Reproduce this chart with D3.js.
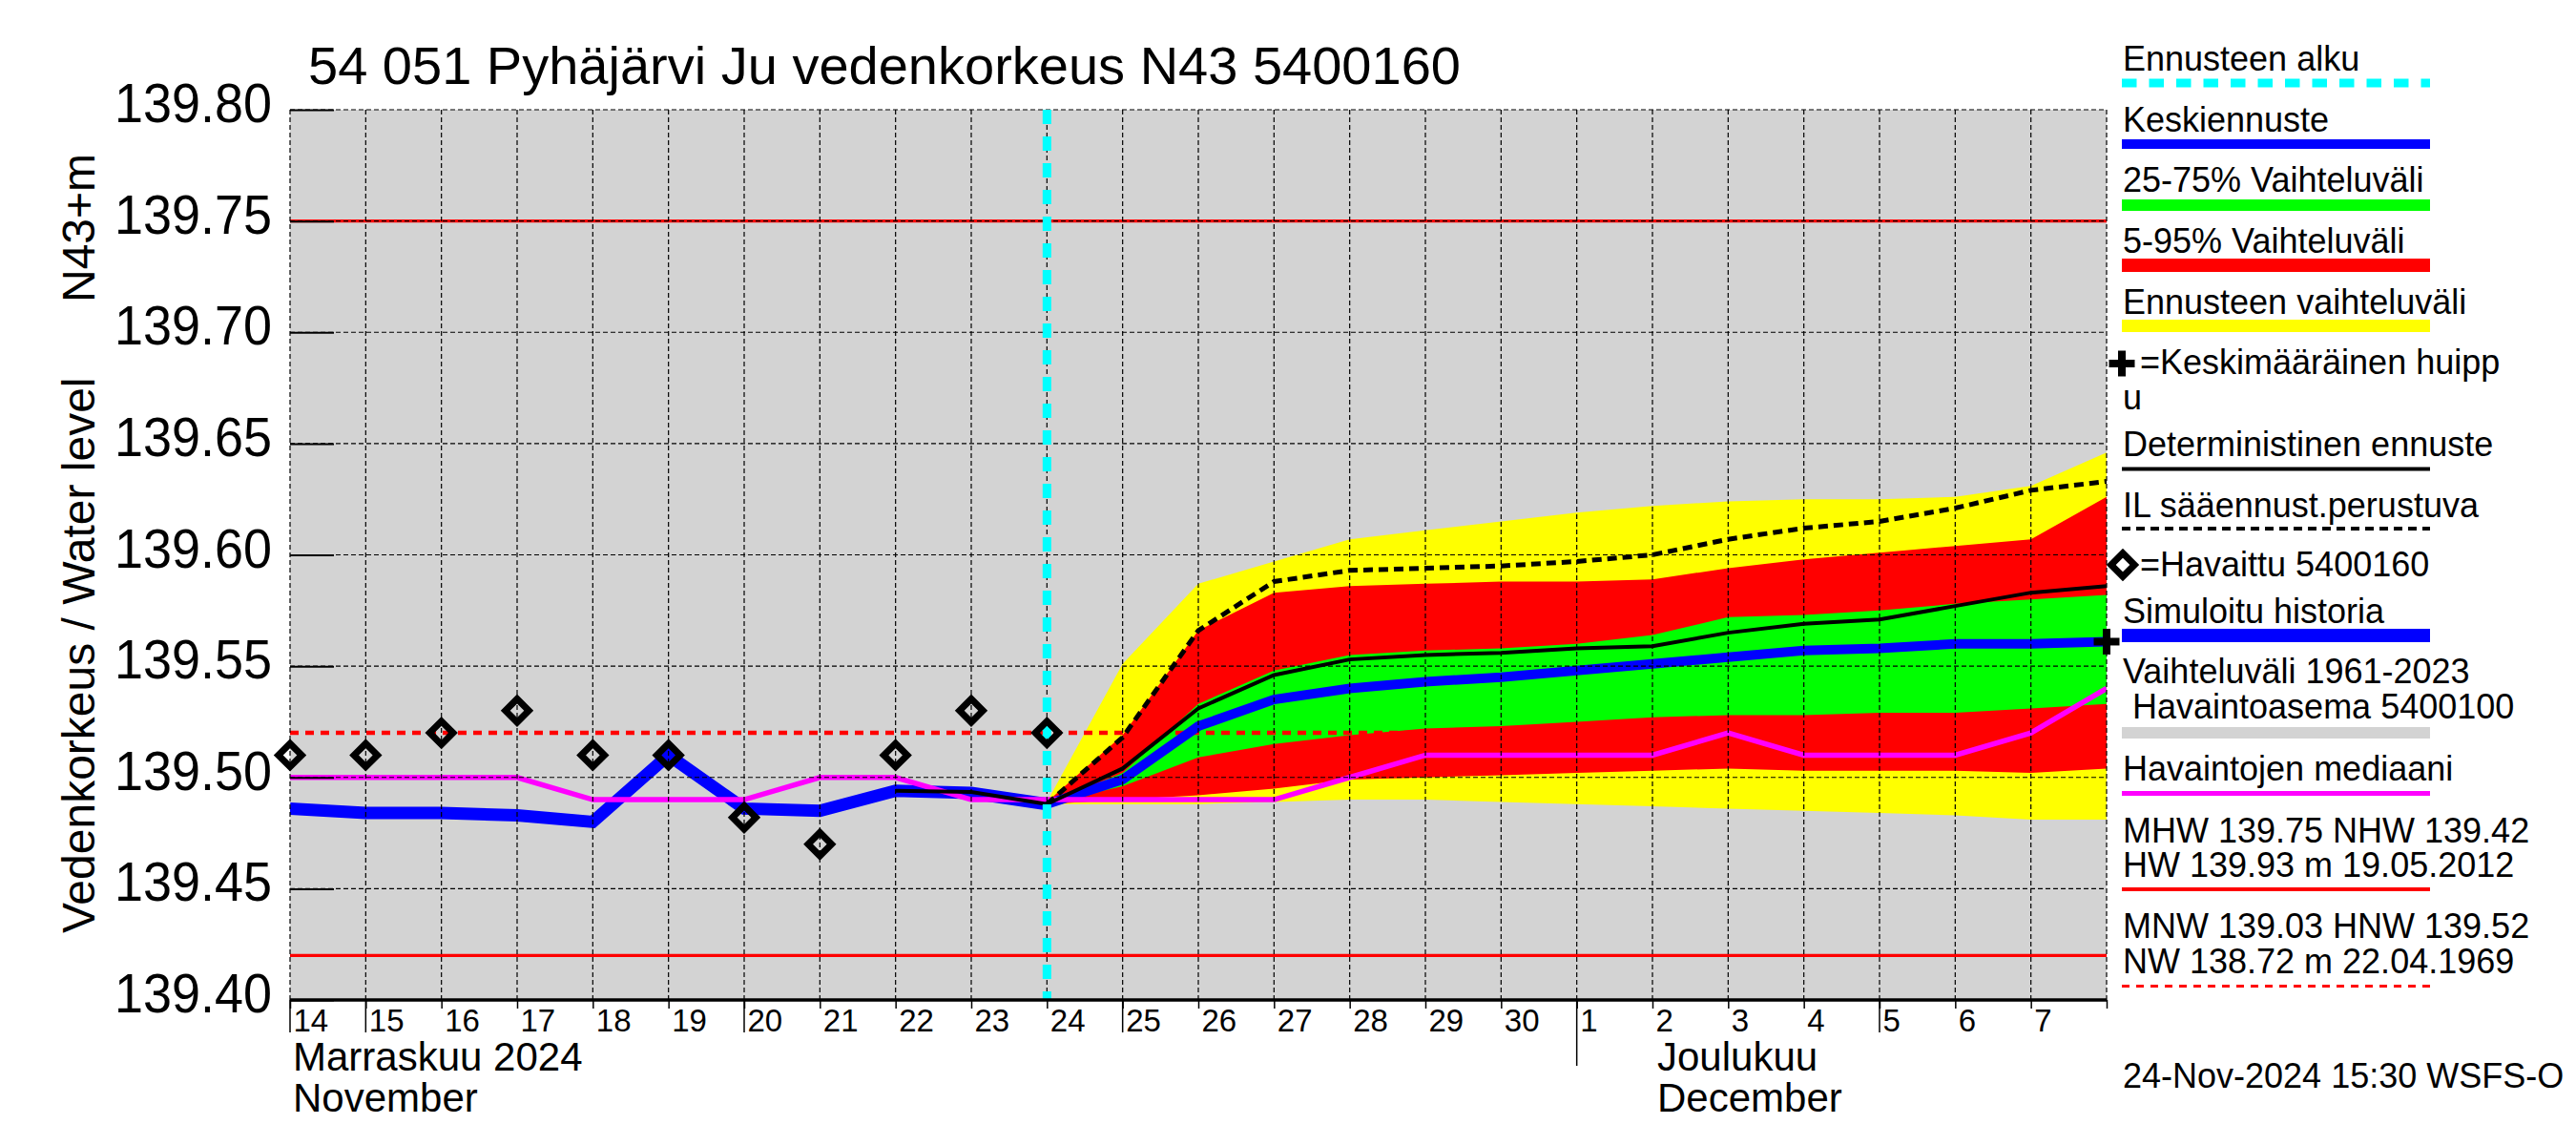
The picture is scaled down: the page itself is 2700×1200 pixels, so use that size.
<!DOCTYPE html>
<html><head><meta charset="utf-8">
<script src="https://cdn.jsdelivr.net/npm/d3@7"></script>
<style>
body{margin:0;background:#fff}
svg{display:block}
text{font-family:"Liberation Sans",Arial,Helvetica,sans-serif;fill:#000;white-space:pre}
</style>
</head><body>
<svg id="chart" width="2700" height="1200"></svg>
<script>
// ---------------- DATA ----------------
const titleText = "54 051 Pyhäjärvi Ju vedenkorkeus N43 5400160";
const yTitleMain = "Vedenkorkeus / Water level";
const yTitleUnit = "N43+m";
const yTickValues = [139.40, 139.45, 139.50, 139.55, 139.60, 139.65, 139.70, 139.75, 139.80];
const monthLabelsNov = ["Marraskuu 2024", "November"];
const monthLabelsDec = ["Joulukuu", "December"];
const timestampText = "24-Nov-2024 15:30 WSFS-O";

const axisStart = "2024-11-14";
const axisEnd = "2024-12-08";
const forecastStart = "2024-11-24";
const monthStartDec = "2024-12-01";
const longTickDates = ["2024-11-14", "2024-11-15", "2024-11-20", "2024-11-25", "2024-12-05"];

const mhw = 139.75;   // MHW
const nhw = 139.42;   // NHW
const hnw = 139.52;   // HNW

// simulated history & observations (Nov 14 .. Nov 24)
const histDates = ["2024-11-14","2024-11-15","2024-11-16","2024-11-17","2024-11-18","2024-11-19",
                   "2024-11-20","2024-11-21","2024-11-22","2024-11-23","2024-11-24"];
const simHistory = [139.486,139.484,139.484,139.483,139.480,139.510,139.486,139.485,139.494,139.493,139.488];
const observed   = [139.51,139.51,139.52,139.53,139.51,139.51,139.482,139.47,139.51,139.53,139.52];

// deterministic forecast, part before forecast start
const detHistDates = ["2024-11-22","2024-11-23","2024-11-24"];
const detHistory = [139.494,139.4935,139.488];

// median of observations (Nov 14 .. Dec 8)
const medianDates = ["2024-11-14","2024-11-15","2024-11-16","2024-11-17","2024-11-18","2024-11-19",
  "2024-11-20","2024-11-21","2024-11-22","2024-11-23","2024-11-24","2024-11-25","2024-11-26",
  "2024-11-27","2024-11-28","2024-11-29","2024-11-30","2024-12-01","2024-12-02","2024-12-03",
  "2024-12-04","2024-12-05","2024-12-06","2024-12-07","2024-12-08"];
const medianValues = [139.50,139.50,139.50,139.50,139.49,139.49,139.49,139.50,139.50,139.49,139.49,
  139.49,139.49,139.49,139.50,139.51,139.51,139.51,139.51,139.52,139.51,139.51,139.51,139.52,139.54];

// forecast (Nov 24 .. Dec 8)
const fcDates = ["2024-11-24","2024-11-25","2024-11-26","2024-11-27","2024-11-28","2024-11-29",
  "2024-11-30","2024-12-01","2024-12-02","2024-12-03","2024-12-04","2024-12-05","2024-12-06",
  "2024-12-07","2024-12-08"];
const fcMax  = [139.489,139.551,139.587,139.597,139.607,139.611,139.615,139.619,139.622,139.624,139.625,139.625,139.626,139.631,139.646];
const fcP95  = [139.489,139.519,139.566,139.583,139.586,139.587,139.588,139.588,139.589,139.594,139.598,139.601,139.604,139.607,139.626];
const fcP75  = [139.488,139.502,139.533,139.548,139.555,139.557,139.558,139.560,139.564,139.572,139.573,139.575,139.578,139.580,139.582];
const fcMean = [139.488,139.499,139.523,139.535,139.540,139.543,139.545,139.548,139.551,139.554,139.557,139.558,139.560,139.560,139.561];
const fcP25  = [139.488,139.496,139.509,139.515,139.519,139.522,139.523,139.525,139.527,139.528,139.528,139.529,139.529,139.531,139.533];
const fcP5   = [139.488,139.490,139.492,139.495,139.499,139.500,139.501,139.502,139.503,139.504,139.503,139.503,139.503,139.502,139.504];
const fcMin  = [139.488,139.488,139.488,139.489,139.490,139.490,139.489,139.488,139.487,139.486,139.485,139.484,139.483,139.481,139.481];
const fcDet  = [139.488,139.504,139.531,139.546,139.553,139.555,139.556,139.558,139.559,139.565,139.569,139.571,139.577,139.583,139.586];
const fcIL   = [139.488,139.518,139.566,139.588,139.593,139.594,139.595,139.597,139.600,139.607,139.612,139.615,139.621,139.629,139.633];

const peakDate = "2024-12-08";
const peakValue = 139.561;

const legendLabels = ["Ennusteen alku","Keskiennuste","25-75% Vaihteluväli","5-95% Vaihteluväli",
  "Ennusteen vaihteluväli","=Keskimääräinen huipp","u","Deterministinen ennuste","IL sääennust.perustuva",
  "=Havaittu 5400160","Simuloitu historia","Vaihteluväli 1961-2023"," Havaintoasema 5400100",
  "Havaintojen mediaani","MHW 139.75 NHW 139.42","HW 139.93 m 19.05.2012",
  "MNW 139.03 HNW 139.52","NW 138.72 m 22.04.1969"];

// ---------------- CHART ----------------
const parse = d3.utcParse("%Y-%m-%d");
const L = 304, R = 2208, T = 115, B = 1048;
const x = d3.scaleUtc().domain([parse(axisStart), parse(axisEnd)]).range([L, R]);
const y = d3.scaleLinear().domain([139.40, 139.80]).range([B, T]);
const svg = d3.select("#chart");

svg.append("defs").append("clipPath").attr("id","plotclip")
  .append("rect").attr("x",L).attr("y",T).attr("width",R-L).attr("height",B-T);

svg.append("rect").attr("x",L).attr("y",T).attr("width",R-L).attr("height",B-T).attr("fill","#d3d3d3");

const plot = svg.append("g").attr("clip-path","url(#plotclip)");
const fcD = fcDates.map(parse);

function band(lo, hi, color){
  plot.append("path").datum(fcD)
    .attr("d", d3.area().x(d=>x(d)).y0((d,i)=>y(lo[i])).y1((d,i)=>y(hi[i])))
    .attr("fill", color).attr("stroke", "none");
}
band(fcMin, fcMax, "#ffff00");
band(fcP5, fcP95, "#ff0000");
band(fcP25, fcP75, "#00ff00");

// grid
const days = d3.utcDay.range(parse(axisStart), d3.utcDay.offset(parse(axisEnd),1));
const grid = svg.append("g");
grid.selectAll("line.v").data(days).join("line")
  .attr("x1",d=>x(d)).attr("x2",d=>x(d)).attr("y1",T).attr("y2",B)
  .attr("stroke","#000").attr("stroke-width",1.2).attr("stroke-dasharray","5,3");
grid.selectAll("line.h").data(yTickValues).join("line")
  .attr("x1",L).attr("x2",R).attr("y1",d=>y(d)).attr("y2",d=>y(d))
  .attr("stroke","#000").attr("stroke-width",1.2).attr("stroke-dasharray","5,3");

// reference lines
[mhw, nhw].forEach(v=>{
  plot.append("line").attr("x1",L).attr("x2",R).attr("y1",y(v)).attr("y2",y(v))
    .attr("stroke","#ff0000").attr("stroke-width",3.3);
});
plot.append("line").attr("x1",L).attr("x2",R).attr("y1",y(hnw)).attr("y2",y(hnw))
  .attr("stroke","#ff0000").attr("stroke-width",4.5).attr("stroke-dasharray","9,7");

function line(dates, vals, color, width, dash){
  const p = plot.append("path").datum(dates.map(parse))
    .attr("d", d3.line().x(d=>x(d)).y((d,i)=>y(vals[i])))
    .attr("fill","none").attr("stroke",color).attr("stroke-width",width)
    .attr("stroke-linejoin","miter");
  if (dash) p.attr("stroke-dasharray",dash);
  return p;
}
line(histDates, simHistory, "#0000ff", 13);
line(fcDates, fcMean, "#0000ff", 10);
line(medianDates, medianValues, "#ff00ff", 5.5);
line(detHistDates, detHistory, "#000", 4);
line(fcDates, fcDet, "#000", 4);
line(fcDates, fcIL, "#000", 5, "10,6");

// forecast start
svg.append("line").attr("x1",x(parse(forecastStart))).attr("x2",x(parse(forecastStart)))
  .attr("y1",T).attr("y2",B).attr("stroke","#00ffff").attr("stroke-width",9)
  .attr("stroke-dasharray","15,13");

// observations
const diamond = d3.symbol().type(d3.symbolSquare).size(300);
svg.append("g").selectAll("path").data(histDates).join("path")
  .attr("d", diamond())
  .attr("transform",(d,i)=>`translate(${x(parse(d))},${y(observed[i])}) rotate(45)`)
  .attr("fill","none").attr("stroke","#000").attr("stroke-width",7);

// mean peak
function plus(g, cx, cy, arm, w){
  g.append("line").attr("x1",cx-arm).attr("x2",cx+arm).attr("y1",cy).attr("y2",cy).attr("stroke","#000").attr("stroke-width",w);
  g.append("line").attr("x1",cx).attr("x2",cx).attr("y1",cy-arm).attr("y2",cy+arm).attr("stroke","#000").attr("stroke-width",w);
}
plus(svg, x(parse(peakDate)), y(peakValue), 13.5, 8);

// y axis
const yAxis = d3.axisLeft(y).tickValues(yTickValues).tickFormat(d3.format(".2f"))
  .tickSizeInner(-46).tickSizeOuter(0).tickPadding(19);
const gy = svg.append("g").attr("transform",`translate(${L},0)`).call(yAxis);
gy.select(".domain").remove();
gy.selectAll(".tick line").attr("stroke","#000").attr("stroke-width",2);
gy.selectAll(".tick text").attr("font-size",57).attr("dy","0.22em")
  .attr("font-family","Liberation Sans, Arial, sans-serif")
  .attr("textLength",165).attr("lengthAdjust","spacingAndGlyphs");

// x axis
const xAxis = d3.axisBottom(x).tickValues(days).tickSizeInner(9).tickSizeOuter(0)
  .tickFormat(d => +d === +parse(axisEnd) ? "" : d3.utcFormat("%-d")(d));
const gx = svg.append("g").attr("transform",`translate(0,${B})`).call(xAxis);
gx.select(".domain").remove();
gx.selectAll(".tick line").attr("stroke","#000").attr("stroke-width",1.5);
gx.selectAll(".tick text").attr("font-size",33).attr("text-anchor","start")
  .attr("x",3).attr("y",33).attr("dy",0)
  .attr("font-family","Liberation Sans, Arial, sans-serif");
svg.append("g").selectAll("line").data(longTickDates.map(parse)).join("line")
  .attr("x1",d=>x(d)).attr("x2",d=>x(d)).attr("y1",B).attr("y2",B+34)
  .attr("stroke","#000").attr("stroke-width",1.5);
svg.append("line").attr("x1",x(parse(monthStartDec))).attr("x2",x(parse(monthStartDec)))
  .attr("y1",B).attr("y2",B+69).attr("stroke","#000").attr("stroke-width",1.5);
svg.append("line").attr("x1",L).attr("x2",R).attr("y1",B).attr("y2",B)
  .attr("stroke","#000").attr("stroke-width",3.5);

svg.append("text").attr("x",307).attr("y",1122).attr("font-size",42).text(monthLabelsNov[0]);
svg.append("text").attr("x",307).attr("y",1165).attr("font-size",42).text(monthLabelsNov[1]);
svg.append("text").attr("x",1737).attr("y",1122).attr("font-size",42).text(monthLabelsDec[0]);
svg.append("text").attr("x",1737).attr("y",1165).attr("font-size",42).text(monthLabelsDec[1]);

// titles
svg.append("text").attr("x",323).attr("y",88).attr("font-size",56).text(titleText);
svg.append("text").attr("transform","translate(99,978) rotate(-90)").attr("font-size",48).text(yTitleMain);
svg.append("text").attr("transform","translate(99,317) rotate(-90)").attr("font-size",48).text(yTitleUnit);

// legend
const lg = svg.append("g");
const LX = 2225, SX1 = 2224, SX2 = 2547;
function ltext(t, xx, yy){ lg.append("text").attr("x",xx).attr("y",yy).attr("font-size",36).attr("xml:space","preserve").text(t); }
function lswatch(yy, color, w, dash){
  const l = lg.append("line").attr("x1",SX1).attr("x2",SX2).attr("y1",yy).attr("y2",yy)
    .attr("stroke",color).attr("stroke-width",w);
  if (dash) l.attr("stroke-dasharray",dash);
}
ltext(legendLabels[0], LX, 74);  lswatch(87, "#00ffff", 9, "15.5,13");
ltext(legendLabels[1], LX, 138); lswatch(151, "#0000ff", 10);
ltext(legendLabels[2], LX, 201); lswatch(215, "#00ff00", 12);
ltext(legendLabels[3], LX, 265); lswatch(278, "#ff0000", 14);
ltext(legendLabels[4], LX, 329); lswatch(341.5, "#ffff00", 13);
plus(lg, 2224, 381, 13.5, 8);
ltext(legendLabels[5], 2243, 392); ltext(legendLabels[6], LX, 429);
ltext(legendLabels[7], LX, 478); lswatch(491.5, "#000", 4);
ltext(legendLabels[8], LX, 542); lswatch(554, "#000", 4, "9,6");
lg.append("path").attr("d", diamond()).attr("transform","translate(2225,592) rotate(45)")
  .attr("fill","none").attr("stroke","#000").attr("stroke-width",7);
ltext(legendLabels[9], 2243, 604);
ltext(legendLabels[10], LX, 653); lswatch(666, "#0000ff", 14);
ltext(legendLabels[11], LX, 716); ltext(legendLabels[12], LX, 753); lswatch(768, "#d3d3d3", 12);
ltext(legendLabels[13], LX, 818); lswatch(831.5, "#ff00ff", 5);
ltext(legendLabels[14], LX, 883); ltext(legendLabels[15], LX, 919); lswatch(932, "#ff0000", 4);
ltext(legendLabels[16], LX, 983); ltext(legendLabels[17], LX, 1020); lswatch(1033.5, "#ff0000", 3, "8,7");
ltext(timestampText, LX, 1140);
</script>
</body></html>
